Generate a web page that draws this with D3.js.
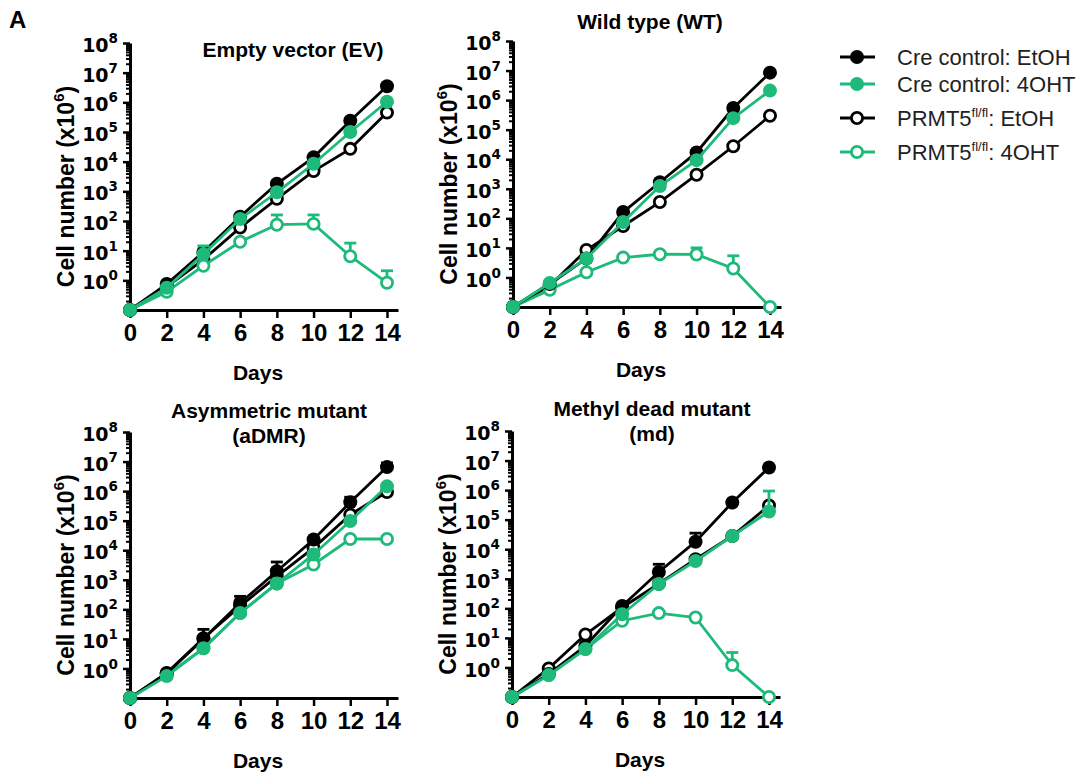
<!DOCTYPE html>
<html>
<head>
<meta charset="utf-8">
<script src="https://cdn.jsdelivr.net/npm/d3@7/dist/d3.min.js"></script>
<style>
  body { margin: 0; background: #fff; }
  svg { display: block; font-family: "Liberation Sans", Arial, sans-serif; }
  .axis path, .axis line { stroke: #000; }
</style>
</head>
<body>
<div id="chart"></div>
<script>
    var width = 1081,
        height = 772,
        green = "#1dba79",
        dotR = 7;   // marker radius

    // days on the x axis, decades on the y axis
    var days = [0, 2, 4, 6, 8, 10, 12, 14];
    var decades = [0, 1, 2, 3, 4, 5, 6, 7, 8];

    var seriesNames = ["Cre control: EtOH", "Cre control: 4OHT", "PRMT5", "PRMT5"];
    var seriesSuffix = ["", "", ": EtOH", ": 4OHT"];

    // Empty vector (EV)
    var evCreEtOH = [0.1, 0.75, 9, 140, 1800, 14000, 240000, 3.5e6];
    var evCre4OHT = [0.1, 0.56, 7.6, 117, 930, 8500, 100000, 1.05e6];
    var evFlEtOH  = [0.1, 0.6, 5, 60, 560, 4800, 27000, 450000];
    var evFl4OHT  = [0.1, 0.41, 3.1, 20, 75, 80, 6.5, 0.83];
    var evCre4OHTErr = [null, null, 14.5, null, null, null, null, null];
    var evFl4OHTErr  = [null, null, null, null, 160, 160, 18, 2.1];

    // Wild type (WT)
    var wtCreEtOH = [0.1, 0.6, 4.4, 163, 1660, 17000, 540000, 8.5e6];
    var wtCre4OHT = [0.1, 0.65, 4.4, 75, 1230, 9300, 245000, 2.1e6];
    var wtFlEtOH  = [0.1, 0.52, 8.5, 55, 355, 3000, 27500, 295000];
    var wtFl4OHT  = [0.1, 0.38, 1.5, 4.7, 6.1, 6, 2, 0.1];
    var wtFl4OHTErr = [null, null, null, null, null, 10, 5.4, null];

    // Asymmetric mutant (aDMR)
    var adCreEtOH = [0.1, 0.68, 10, 163, 1950, 23000, 420000, 6.5e6];
    var adCre4OHT = [0.1, 0.55, 4.8, 75, 750, 7200, 98000, 1.45e6];
    var adFlEtOH  = [0.1, 0.7, 10.5, 127, 1300, 12000, 160000, 930000];
    var adFl4OHT  = [0.1, 0.6, 4.8, 75, 750, 3300, 24000, 24000];
    var adCreEtOHErr = [null, null, 21, 275, 4000, null, 620000, 9e6];

    // Methyl dead mutant (md)
    var mdCreEtOH = [0.1, 0.6, 5.4, 120, 1700, 18000, 380000, 5.8e6];
    var mdCre4OHT = [0.1, 0.55, 4.2, 63, 660, 4000, 28000, 190000];
    var mdFlEtOH  = [0.1, 0.93, 13, 107, 680, 4600, 28000, 300000];
    var mdFl4OHT  = [0.1, 0.55, 4.2, 38, 69, 49, 1.2, 0.1];
    var mdCreEtOHErr = [null, null, null, null, 3100, 35000, null, null];
    var mdCre4OHTErr = [null, null, null, null, null, null, null, 930000];
    var mdFl4OHTErr  = [null, null, null, null, null, null, 3.2, null];

    var styles = [
        { color: "#000", open: false },
        { color: green, open: false },
        { color: "#000", open: true },
        { color: green, open: true }
    ];

    var none = days.map(function () { return null; });

    var panels = [
        { title: ["Empty vector (EV)"], titleX: 293, titleY: [57], x0: 130, top: 43, bottom: 310,
          values: [evCreEtOH, evCre4OHT, evFlEtOH, evFl4OHT], errs: [none, evCre4OHTErr, none, evFl4OHTErr] },
        { title: ["Wild type (WT)"], titleX: 650, titleY: [29], x0: 513, top: 41, bottom: 307,
          values: [wtCreEtOH, wtCre4OHT, wtFlEtOH, wtFl4OHT], errs: [none, none, none, wtFl4OHTErr] },
        { title: ["Asymmetric mutant", "(aDMR)"], titleX: 269, titleY: [418, 443], x0: 130, top: 432, bottom: 698,
          values: [adCreEtOH, adCre4OHT, adFlEtOH, adFl4OHT], errs: [adCreEtOHErr, none, none, none] },
        { title: ["Methyl dead mutant", "(md)"], titleX: 652, titleY: [416, 441], x0: 512, top: 431, bottom: 697,
          values: [mdCreEtOH, mdCre4OHT, mdFlEtOH, mdFl4OHT], errs: [mdCreEtOHErr, mdCre4OHTErr, none, mdFl4OHTErr] }
    ];

    var svg = d3.select("#chart").append("svg")
        .attr("width", width)
        .attr("height", height);

    svg.append("text")
        .attr("x", 9).attr("y", 28)
        .style("font-size", "24px").style("font-weight", "bold")
        .text("A");

    // superscript label helper
    function supText(sel, base, sup, supSize, dy) {
        sel.append("tspan").text(base);
        sel.append("tspan").attr("dy", -dy).style("font-size", supSize + "px").text(sup);
    }

    // draw order: open markers first, filled on top
    var order = [2, 3, 0, 1];

    panels.forEach(function (p) {
        var g = svg.append("g");

        var x = d3.scaleLinear().domain([0, 14.6]).range([p.x0, p.x0 + 268]);
        var y = d3.scaleLog().domain([0.1, 1e8]).range([p.bottom, p.top]);

        // minor ticks
        var minor = [];
        for (var e = -1; e < 8; e++) {
            for (var m = 2; m <= 9; m++) minor.push(m * Math.pow(10, e));
        }
        g.append("g").attr("class", "axis")
            .attr("transform", "translate(" + p.x0 + ",0)")
            .call(d3.axisLeft(y).tickValues(minor).tickSize(4).tickSizeOuter(0).tickFormat(""))
            .call(function (a) {
                a.select(".domain").remove();
                a.selectAll("line").style("stroke-width", 2);
            });

        // major ticks + labels
        var yAxis = g.append("g").attr("class", "axis")
            .attr("transform", "translate(" + p.x0 + ",0)")
            .call(d3.axisLeft(y).tickValues(decades.map(function (d) { return Math.pow(10, d); }))
                .tickSize(7).tickSizeOuter(0).tickPadding(5).tickFormat(""));
        yAxis.select(".domain").style("stroke-width", 3);
        yAxis.selectAll("line").style("stroke-width", 2.5);
        yAxis.selectAll(".tick text")
            .attr("fill", "#000")
            .style("font-family", "'DejaVu Sans', sans-serif")
            .style("font-size", "19px").style("font-weight", "bold")
            .attr("dy", "0.45em")
            .each(function (d) {
                supText(d3.select(this), "10", Math.round(Math.log10(d)), 13.5, 9);
            });

        var xAxis = g.append("g").attr("class", "axis")
            .attr("transform", "translate(0," + p.bottom + ")")
            .call(d3.axisBottom(x).tickValues(days).tickSize(8).tickSizeOuter(0).tickPadding(6));
        xAxis.select(".domain").style("stroke-width", 3);
        xAxis.selectAll("line").style("stroke-width", 2.5);
        xAxis.selectAll("text")
            .attr("fill", "#000")
            .style("font-size", "24px").style("font-weight", "bold");

        // axis titles
        g.append("text")
            .attr("x", p.x0 + 128).attr("y", p.bottom + 70)
            .attr("text-anchor", "middle")
            .style("font-size", "21px").style("font-weight", "bold")
            .text("Days");

        var yl = g.append("text")
            .attr("transform", "translate(" + (p.x0 - 56) + "," + ((p.top + p.bottom) / 2 + 10) + ") rotate(-90)")
            .attr("text-anchor", "middle")
            .style("font-size", "23px").style("font-weight", "bold");
        supText(yl, "Cell number (x10", "6", 15, 10);
        yl.append("tspan").attr("dy", 10).text(")");

        // panel title
        p.title.forEach(function (t, i) {
            g.append("text")
                .attr("x", p.titleX).attr("y", p.titleY[i])
                .attr("text-anchor", "middle")
                .style("font-size", "21px").style("font-weight", "bold")
                .text(t);
        });

        var line = d3.line()
            .x(function (d, i) { return x(days[i]); })
            .y(function (d) { return y(d); });

        order.forEach(function (s) {
            var st = styles[s],
                vals = p.values[s],
                errs = p.errs[s];

            // upper error bars
            errs.forEach(function (e, i) {
                if (e == null) return;
                var cx = x(days[i]);
                g.append("line")
                    .attr("x1", cx).attr("x2", cx)
                    .attr("y1", y(vals[i])).attr("y2", y(e))
                    .style("stroke", st.color).style("stroke-width", 2.8);
                g.append("line")
                    .attr("x1", cx - 6).attr("x2", cx + 6)
                    .attr("y1", y(e)).attr("y2", y(e))
                    .style("stroke", st.color).style("stroke-width", 2.8);
            });

            g.append("path")
                .datum(vals)
                .attr("d", line)
                .style("fill", "none")
                .style("stroke", st.color)
                .style("stroke-width", 2.8);

            g.selectAll(null)
                .data(vals)
                .enter().append("circle")
                .attr("cx", function (d, i) { return x(days[i]); })
                .attr("cy", function (d) { return y(d); })
                .attr("r", st.open ? dotR - 1.4 : dotR)
                .style("fill", st.open ? "#fff" : st.color)
                .style("stroke", st.color)
                .style("stroke-width", st.open ? 2.8 : 0);
        });
    });

    // legend
    var legendY = [57, 84, 118, 152];
    var lg = svg.append("g");
    styles.forEach(function (st, i) {
        var row = lg.append("g").attr("transform", "translate(0," + legendY[i] + ")");
        row.append("line")
            .attr("x1", 840).attr("x2", 875)
            .style("stroke", st.color).style("stroke-width", 2.8);
        row.append("circle")
            .attr("cx", 857).attr("r", st.open ? 5.6 : 7)
            .style("fill", st.open ? "#fff" : st.color)
            .style("stroke", st.color)
            .style("stroke-width", st.open ? 2.8 : 0);
        var t = row.append("text")
            .attr("x", 897).attr("dy", "0.36em")
            .style("font-size", "22px").style("fill", "#222");
        if (seriesSuffix[i]) {
            supText(t, seriesNames[i], "fl/fl", 13, 9);
            t.append("tspan").attr("dy", 9).text(seriesSuffix[i]);
        } else {
            t.text(seriesNames[i]);
        }
    });
</script>
</body>
</html>
